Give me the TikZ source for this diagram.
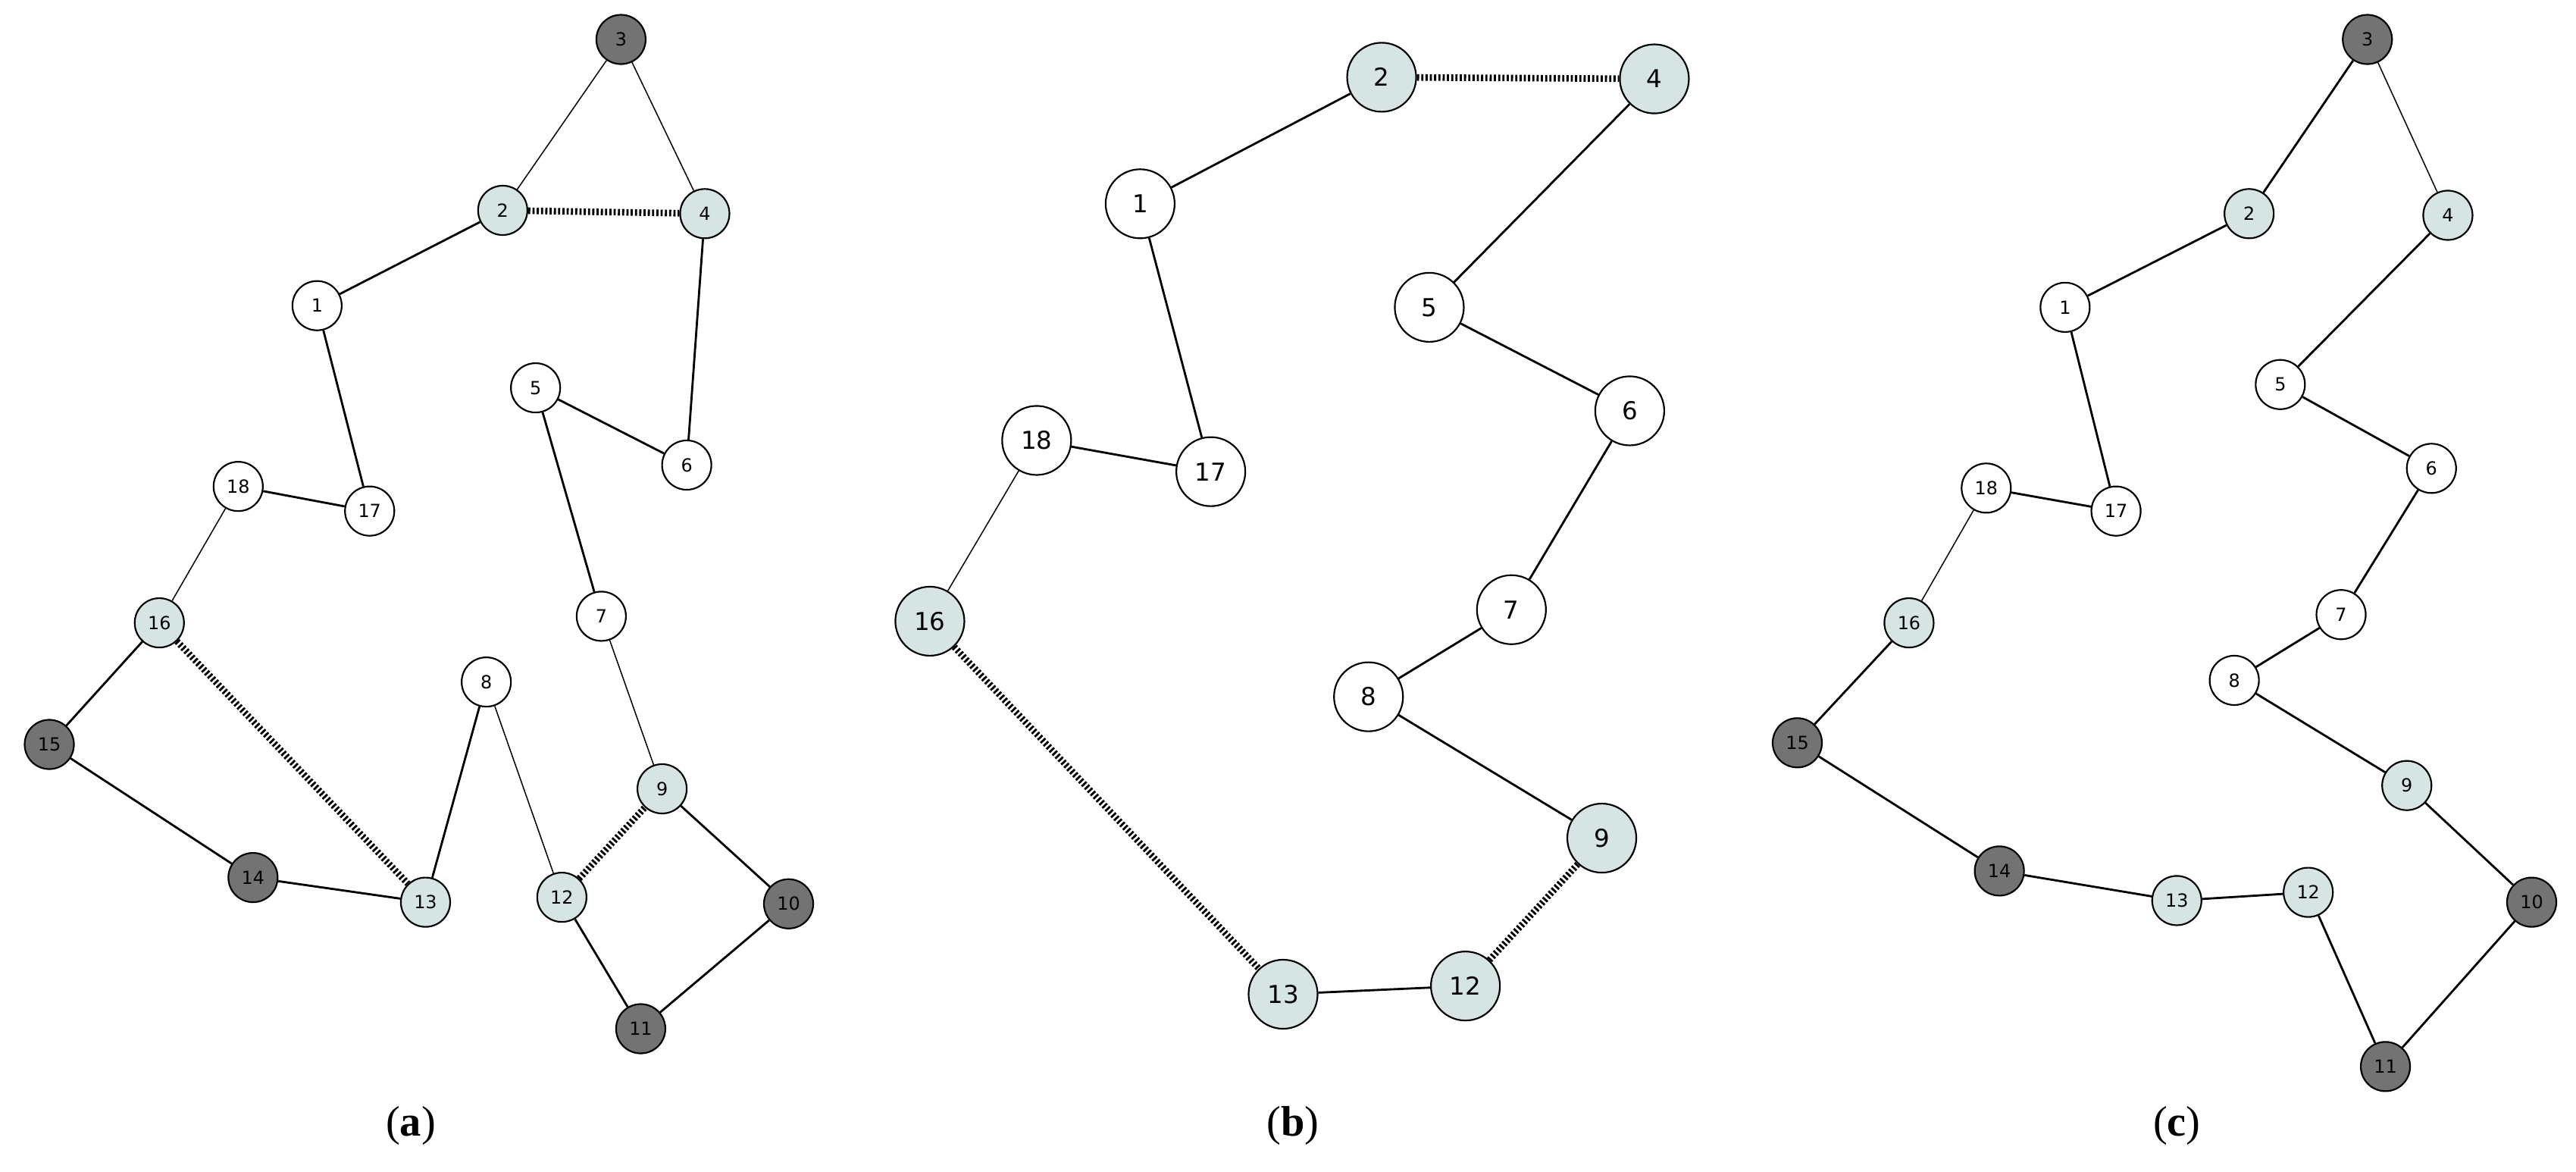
\documentclass[tikz,border=0pt]{standalone}
\usepackage{fontspec}
\setmainfont{Liberation Serif}
\newfontfamily\nf{DejaVu Sans}
\begin{document}
\begin{tikzpicture}[x=1pt,y=-1pt,
 v/.style={circle,draw=black,line width=1pt,fill=white,minimum size=30pt,inner sep=0pt,font=\nf\fontsize{11}{12}\selectfont},
 L/.style={v,fill=lightc},
 D/.style={v,fill=darkc},
 bv/.style={v,minimum size=42pt,font=\nf\fontsize{15}{16}\selectfont},
 bL/.style={bv,fill=lightc},
 e/.style={line width=1.3pt},
 t/.style={line width=0.7pt},
 d/.style={line width=4pt,dash pattern=on 1.3pt off 1.3pt},
 captxt/.style={font=\fontsize{26}{30}\selectfont}]
\definecolor{lightc}{HTML}{D6E4E4}
\definecolor{darkc}{HTML}{737373}
\useasboundingbox (0,0) rectangle (1568,713);
% (a)
\node[D] (a3) at (378,24) {3};
\node[L] (a2) at (306,128) {2};
\node[L] (a4) at (429,130) {4};
\node[v] (a1) at (193,186) {1};
\node[v] (a5) at (326,236) {5};
\node[v] (a6) at (418,283) {6};
\node[v] (a18) at (145,296) {18};
\node[v] (a17) at (225,311) {17};
\node[v] (a7) at (366,375) {7};
\node[L] (a16) at (97,379) {16};
\node[v] (a8) at (296,415) {8};
\node[D] (a15) at (30,453) {15};
\node[L] (a9) at (403,480) {9};
\node[D] (a14) at (154,534) {14};
\node[L] (a13) at (259,549) {13};
\node[L] (a12) at (342,546) {12};
\node[D] (a10) at (480,550) {10};
\node[D] (a11) at (390,626) {11};
\draw[t] (a3)--(a2); \draw[t] (a3)--(a4);
\draw[d] (a2)--(a4);
\draw[e] (a2)--(a1); \draw[e] (a1)--(a17); \draw[e] (a17)--(a18);
\draw[t] (a18)--(a16); \draw[e] (a16)--(a15); \draw[e] (a15)--(a14);
\draw[e] (a14)--(a13); \draw[d] (a16)--(a13); \draw[e] (a13)--(a8);
\draw[t] (a8)--(a12); \draw[d] (a12)--(a9); \draw[t] (a9)--(a7);
\draw[e] (a7)--(a5); \draw[e] (a5)--(a6); \draw[e] (a6)--(a4);
\draw[e] (a9)--(a10); \draw[e] (a10)--(a11); \draw[e] (a11)--(a12);
% (b)
\node[bL] (b2) at (841,47) {2};
\node[bL] (b4) at (1007,48) {4};
\node[bv] (b1) at (694,124) {1};
\node[bv] (b5) at (870,187) {5};
\node[bv] (b6) at (992,250) {6};
\node[bv] (b18) at (631,268) {18};
\node[bv] (b17) at (737,287) {17};
\node[bL] (b16) at (566,378) {16};
\node[bv] (b7) at (920,371) {7};
\node[bv] (b8) at (833,424) {8};
\node[bL] (b9) at (975,510) {9};
\node[bL] (b13) at (781,605) {13};
\node[bL] (b12) at (892,600) {12};
\draw[d] (b2)--(b4);
\draw[e] (b2)--(b1); \draw[e] (b1)--(b17); \draw[e] (b17)--(b18);
\draw[t] (b18)--(b16); \draw[d] (b16)--(b13); \draw[e] (b13)--(b12);
\draw[d] (b12)--(b9); \draw[e] (b9)--(b8); \draw[e] (b8)--(b7);
\draw[e] (b7)--(b6); \draw[e] (b6)--(b5); \draw[e] (b5)--(b4);
% (c)
\node[D] (c3) at (1441,24) {3};
\node[L] (c2) at (1369,130) {2};
\node[L] (c4) at (1490,131) {4};
\node[v] (c1) at (1257,187) {1};
\node[v] (c5) at (1388,234) {5};
\node[v] (c6) at (1480,285) {6};
\node[v] (c18) at (1209,297) {18};
\node[v] (c17) at (1288,311) {17};
\node[L] (c16) at (1162,379) {16};
\node[v] (c7) at (1425,374) {7};
\node[v] (c8) at (1360,414) {8};
\node[D] (c15) at (1094,452) {15};
\node[L] (c9) at (1465,478) {9};
\node[D] (c14) at (1217,530) {14};
\node[L] (c13) at (1325,548) {13};
\node[L] (c12) at (1405,543) {12};
\node[D] (c10) at (1541,549) {10};
\node[D] (c11) at (1452,649) {11};
\draw[e] (c3)--(c2); \draw[t] (c3)--(c4);
\draw[e] (c2)--(c1); \draw[e] (c1)--(c17); \draw[e] (c17)--(c18);
\draw[t] (c18)--(c16); \draw[e] (c16)--(c15); \draw[e] (c15)--(c14);
\draw[e] (c14)--(c13); \draw[e] (c13)--(c12); \draw[e] (c12)--(c11);
\draw[e] (c11)--(c10); \draw[e] (c10)--(c9); \draw[e] (c9)--(c8);
\draw[e] (c8)--(c7); \draw[e] (c7)--(c6); \draw[e] (c6)--(c5); \draw[e] (c5)--(c4);
% captions
\node[captxt] (la) at (250,685) {(\textbf{a})};
\node[captxt] (lb) at (787,685) {(\textbf{b})};
\node[captxt] (lc) at (1325,685) {(\textbf{c})};
\end{tikzpicture}
\end{document}
